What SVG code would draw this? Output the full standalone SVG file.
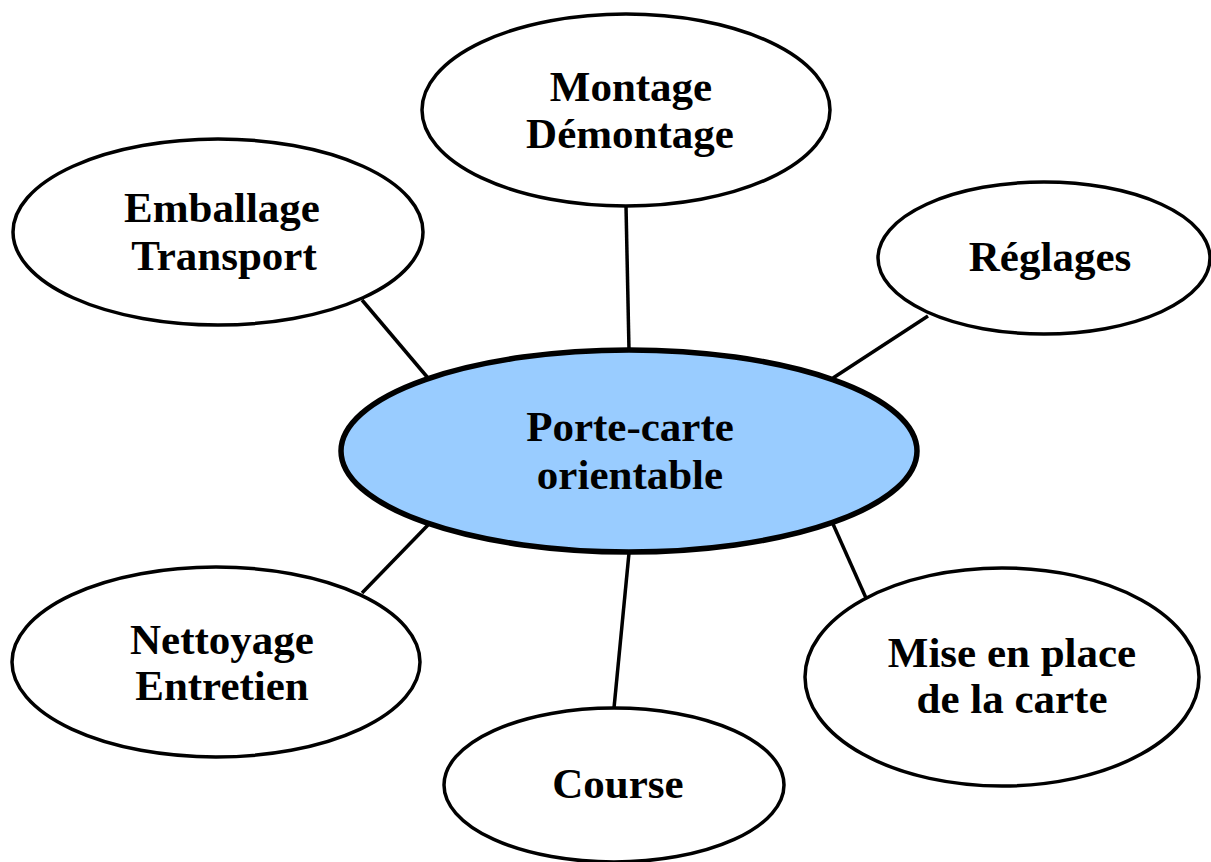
<svg xmlns="http://www.w3.org/2000/svg" width="1211" height="862" viewBox="0 0 1211 862">
<style>
.n{fill:#fff;stroke:#000;stroke-width:3.5}
.c{fill:#99CCFF;stroke:#000;stroke-width:5.5}
.t{font-family:"Liberation Serif","Times New Roman",serif;font-weight:bold;font-size:43px;text-anchor:middle;fill:#000}
#connectors line{stroke:#000;stroke-width:3.5}
</style>
<rect width="1211" height="862" fill="#fff"/>
<g id="connectors">
<line x1="626" y1="206" x2="629" y2="350"/>
<line x1="362" y1="300" x2="428" y2="378"/>
<line x1="928" y1="316" x2="833" y2="378"/>
<line x1="362" y1="593" x2="428" y2="525"/>
<line x1="629" y1="553" x2="614" y2="708"/>
<line x1="833" y1="524" x2="866" y2="598"/>
</g>
<g id="montage">
<ellipse class="n" cx="626" cy="110" rx="204" ry="96"/>
<text class="t" x="631" y="101">Montage</text>
<text class="t" x="630" y="148">Démontage</text>
</g>
<g id="emballage">
<ellipse class="n" cx="218" cy="232" rx="205" ry="93"/>
<text class="t" x="222" y="222">Emballage</text>
<text class="t" x="224" y="270">Transport</text>
</g>
<g id="reglages">
<ellipse class="n" cx="1044" cy="258" rx="166" ry="76"/>
<text class="t" x="1050" y="271">Réglages</text>
</g>
<g id="center">
<ellipse class="c" cx="629" cy="451" rx="288" ry="101"/>
<text class="t" x="630" y="441">Porte-carte</text>
<text class="t" x="630" y="489">orientable</text>
</g>
<g id="nettoyage">
<ellipse class="n" cx="216" cy="662" rx="204" ry="95"/>
<text class="t" x="222" y="654">Nettoyage</text>
<text class="t" x="222" y="700">Entretien</text>
</g>
<g id="course">
<ellipse class="n" cx="614" cy="785" rx="170" ry="77"/>
<text class="t" x="618" y="798">Course</text>
</g>
<g id="mise">
<ellipse class="n" cx="1002" cy="677" rx="197" ry="109"/>
<text class="t" x="1012" y="667">Mise en place</text>
<text class="t" x="1012" y="713">de la carte</text>
</g>
</svg>
